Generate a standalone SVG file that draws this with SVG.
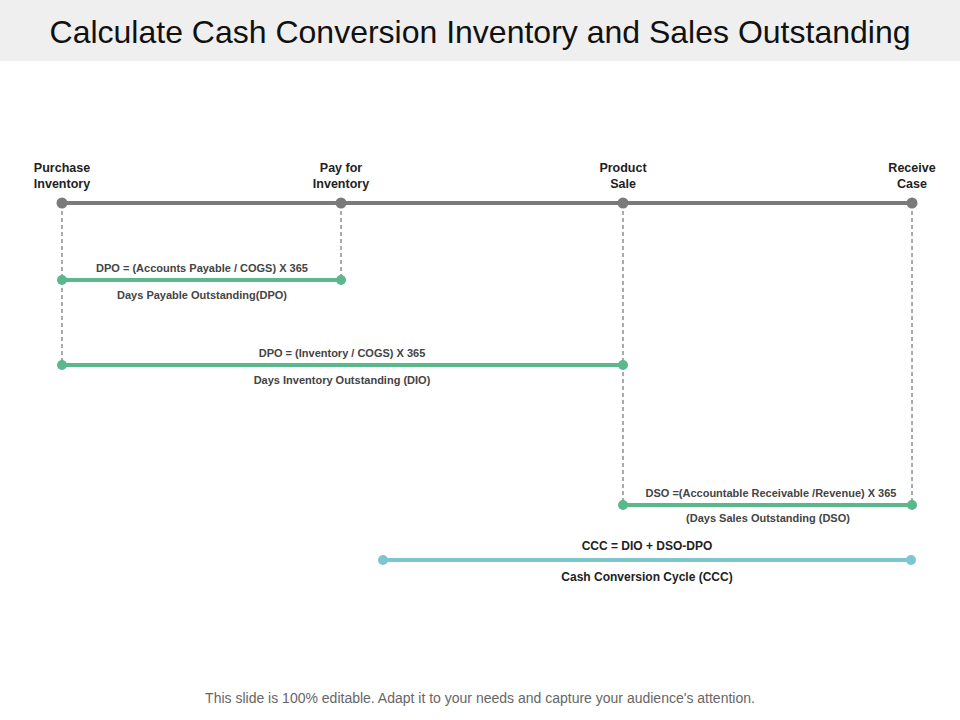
<svg xmlns="http://www.w3.org/2000/svg" width="960" height="720" viewBox="0 0 960 720">
<style>
text{font-family:"Liberation Sans",Arial,sans-serif;text-anchor:middle}
.h{font-size:12.5px;font-weight:bold;fill:#222}
.f{font-size:11px;font-weight:bold;fill:#444}
.c{font-size:12px;font-weight:bold;fill:#222}
.dash{stroke:#555;stroke-width:1;stroke-dasharray:4,3;fill:none}
.g{stroke:#7a7a7a;stroke-width:4}
.gr{stroke:#5ab88c;stroke-width:4}
.bl{stroke:#7dc6cf;stroke-width:4}
</style>
<rect x="0" y="0" width="960" height="61" fill="#efefef"/>
<text x="480" y="43" style="font-size:32px;fill:#111">Calculate Cash Conversion Inventory and Sales Outstanding</text>
<g id="connectors">
<line class="dash" x1="62" y1="204" x2="62" y2="365"/>
<line class="dash" x1="341" y1="204" x2="341" y2="280"/>
<line class="dash" x1="623" y1="204" x2="623" y2="505"/>
<line class="dash" x1="912" y1="204" x2="912" y2="505"/>
</g>
<g id="timeline">
<line class="g" x1="62" y1="203" x2="912" y2="203"/>
<circle cx="62" cy="203" r="5.5" fill="#7a7a7a"/>
<circle cx="341" cy="203" r="5.5" fill="#7a7a7a"/>
<circle cx="623" cy="203" r="5.5" fill="#7a7a7a"/>
<circle cx="912" cy="203" r="5.5" fill="#7a7a7a"/>
<text class="h" x="62" y="172">Purchase</text><text class="h" x="62" y="188">Inventory</text>
<text class="h" x="341" y="172">Pay for</text><text class="h" x="341" y="188">Inventory</text>
<text class="h" x="623" y="172">Product</text><text class="h" x="623" y="188">Sale</text>
<text class="h" x="912" y="172">Receive</text><text class="h" x="912" y="188">Case</text>
</g>
<g id="dpo">
<line class="gr" x1="62" y1="280" x2="341" y2="280"/>
<circle cx="62" cy="280" r="5" fill="#5ab88c"/><circle cx="341" cy="280" r="5" fill="#5ab88c"/>
<text class="f" x="202" y="272">DPO = (Accounts Payable / COGS)  X 365</text>
<text class="f" x="202" y="299">Days Payable Outstanding(DPO)</text>
</g>
<g id="dio">
<line class="gr" x1="62" y1="365" x2="623" y2="365"/>
<circle cx="62" cy="365" r="5" fill="#5ab88c"/><circle cx="623" cy="365" r="5" fill="#5ab88c"/>
<text class="f" x="342" y="357">DPO = (Inventory / COGS)  X 365</text>
<text class="f" x="342" y="384">Days Inventory Outstanding (DIO)</text>
</g>
<g id="dso">
<line class="gr" x1="623" y1="505" x2="912" y2="505"/>
<circle cx="623" cy="505" r="5" fill="#5ab88c"/><circle cx="912" cy="505" r="5" fill="#5ab88c"/>
<text class="f" x="771" y="497">DSO =(Accountable Receivable /Revenue) X 365</text>
<text class="f" x="768" y="522">(Days Sales Outstanding (DSO)</text>
</g>
<g id="ccc">
<line class="bl" x1="383" y1="560" x2="911" y2="560"/>
<circle cx="383" cy="560" r="5" fill="#7dc6cf"/><circle cx="911" cy="560" r="5" fill="#7dc6cf"/>
<text class="c" x="647" y="550">CCC  = DIO + DSO-DPO</text>
<text class="c" x="647" y="581">Cash Conversion Cycle (CCC)</text>
</g>
<text x="480" y="703" style="font-size:14px;fill:#666">This slide is 100% editable. Adapt it to your needs and capture your audience's attention.</text>
</svg>
